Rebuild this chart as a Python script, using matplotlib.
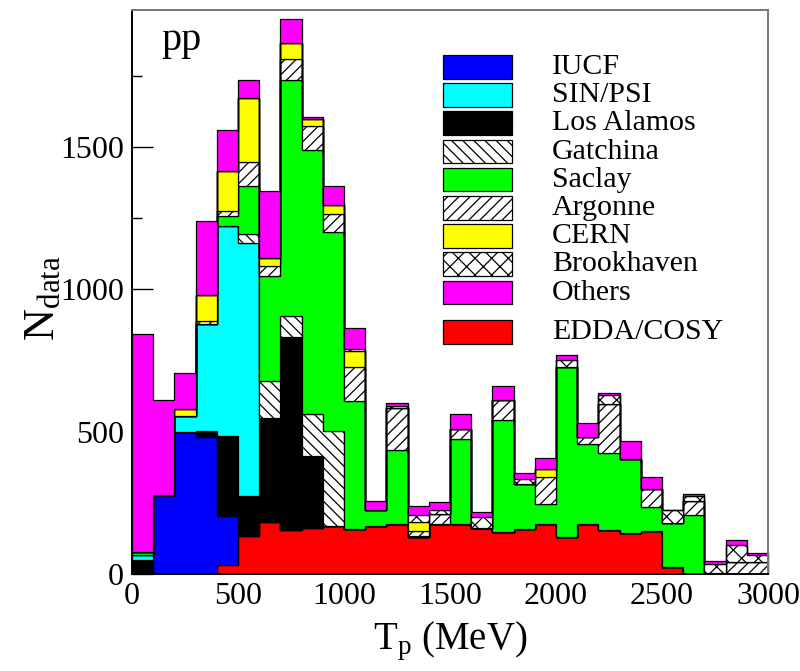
import matplotlib
matplotlib.use('Agg')
import matplotlib.pyplot as plt
import numpy as np
from matplotlib.patches import Rectangle

plt.rcParams['font.family'] = ['Liberation Serif', 'DejaVu Serif']
plt.rcParams['mathtext.fontset'] = 'custom'
plt.rcParams['mathtext.rm'] = 'Liberation Serif'
plt.rcParams['mathtext.it'] = 'Liberation Serif:italic'
plt.rcParams['hatch.linewidth'] = 0.9

# pp data counts per 100 MeV bin, 0..3000 MeV
edges = np.arange(0, 3001, 100)

edda      = [0, 0, 0, 0, 33, 135, 182, 156, 162, 168, 159, 168, 174, 130, 176,
             174, 160, 146, 159, 174, 130, 174, 156, 143, 150, 25, 0, 0, 0, 0]
iucf      = [0, 279, 497, 480, 172, 0, 0, 0, 0, 0, 0, 0, 0, 0, 0,
             0, 0, 0, 0, 0, 0, 0, 0, 0, 0, 0, 0, 0, 0, 0]
losalamos = [48, 0, 0, 23, 281, 138, 366, 675, 251, 0, 0, 0, 0, 0, 0,
             0, 0, 0, 0, 0, 0, 0, 0, 0, 0, 0, 0, 0, 0, 0]
sinpsi    = [20, 0, 59, 376, 737, 889, 0, 0, 0, 0, 0, 0, 0, 0, 0,
             0, 0, 0, 0, 0, 0, 0, 0, 0, 0, 0, 0, 0, 0, 0]
gatchina  = [0, 0, 0, 0, 0, 33, 129, 76, 147, 335, 0, 0, 0, 0, 0,
             0, 0, 0, 0, 0, 0, 0, 0, 0, 0, 0, 0, 0, 0, 0]
saclay    = [10, 0, 0, 0, 35, 168, 368, 828, 927, 696, 447, 58, 263, 4, 0,
             300, 0, 394, 157, 73, 597, 283, 269, 262, 84, 155, 206, 5, 0, 0]
argonne   = [0, 0, 0, 10, 17, 83, 37, 74, 87, 65, 121, 0, 146, 18, 33,
             35, 0, 72, 0, 94, 0, 24, 172, 0, 63, 0, 52, 0, 41, 41]
cern      = [0, 0, 24, 92, 141, 225, 27, 55, 24, 32, 55, 0, 0, 30, 0,
             0, 0, 0, 0, 26, 0, 0, 0, 0, 0, 0, 0, 0, 0, 0]
brookhaven = [0, 0, 0, 0, 0, 0, 0, 0, 0, 0, 9, 0, 8, 26, 17,
              0, 41, 0, 18, 0, 23, 0, 32, 0, 0, 43, 17, 31, 60, 25]
others    = [765, 331, 126, 260, 144, 62, 234, 84, 6, 67, 73, 32, 10, 32, 27,
             53, 17, 47, 21, 41, 20, 49, 7, 61, 44, 0, 6, 11, 17, 8]

# stacking order, bottom to top
layers = [
    (edda, 'red', None),
    (iucf, 'blue', None),
    (losalamos, 'black', None),
    (sinpsi, 'cyan', None),
    (gatchina, 'white', '\\\\\\'),
    (saclay, '#00ff00', None),
    (argonne, 'white', '///'),
    (cern, 'yellow', None),
    (brookhaven, 'white', 'xx'),
    (others, 'magenta', None),
]

fig = plt.figure(figsize=(8, 6.71), dpi=100)
ax = fig.add_axes([132/800, 97/671, 636/800, 564/671])

bottom = np.zeros(len(edges) - 1)
for vals, col, hatch in layers:
    top = bottom + np.array(vals, dtype=float)
    ax.fill_between(edges, np.append(bottom, bottom[-1]), np.append(top, top[-1]),
                    step='post', facecolor=col, edgecolor='black', hatch=hatch,
                    linewidth=0.9, zorder=2)
    bottom = top

ax.set_xlim(0, 3000)
ax.set_ylim(0, 1980)
ax.set_xticks(np.arange(0, 3001, 500))
ax.set_xticks(np.arange(0, 3001, 250), minor=True)
ax.set_yticks(np.arange(0, 1501, 500))
ax.set_yticks(np.arange(0, 1980, 250), minor=True)
ax.tick_params(which='both', direction='in', width=1.0, labelsize=23, zorder=5)
ax.tick_params(which='major', length=15, pad=6)
ax.tick_params(which='minor', length=7.5)
ax.xaxis.set_ticks_position('bottom')
ax.yaxis.set_ticks_position('left')
for s in ['left', 'bottom']:
    ax.spines[s].set_linewidth(1.4)
for s in ['top', 'right']:
    ax.spines[s].set_linewidth(1.4)
    ax.spines[s].set_color('#777777')
for s in ax.spines.values():
    s.set_zorder(6)

ax.set_xlabel(r'T$_{\rm p}$ (MeV)', fontsize=28, labelpad=6)
ax.set_ylabel(r'N$_{\rm data}$', fontsize=32)
ax.yaxis.set_label_coords(-0.108, 0.49)
ax.text(0.046, 0.978, 'pp', transform=ax.transAxes, fontsize=29, va='top', ha='left')

# legend boxes, figure pixel coordinates
def fx(px):
    return px / 800

def fy(py):
    return 1 - py / 671

names = ['IUCF', 'SIN/PSI', 'Los Alamos', 'Gatchina', 'Saclay', 'Argonne',
         'CERN', 'Brookhaven', 'Others', 'EDDA/COSY']
leg_order = [1, 3, 2, 4, 5, 6, 7, 8, 9, 0]
box_tops = [55 + 28.2 * i for i in range(9)] + [320]
for name, li, yt in zip(names, leg_order, box_tops):
    _, col, hatch = layers[li]
    r = Rectangle((fx(443), fy(yt + 23.5)), fx(512) - fx(443), 23.5 / 671,
                  transform=fig.transFigure, facecolor=col, edgecolor='black',
                  hatch=hatch, linewidth=0.9)
    fig.add_artist(r)
    fig.text(fx(552), fy(yt + 12), name, fontsize=21.5, va='center', ha='left')

fig.savefig('out.png', dpi=100)
